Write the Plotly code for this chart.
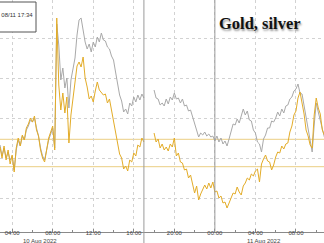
import pandas as pd
import plotly.graph_objects as go

# Session 1: 10 Aug 02:48 -> 17:00 (12-minute bars), session 2: 18:00 -> 11 Aug 10:48
s1_start = "2022-08-10 02:48"
s2_start = "2022-08-10 18:00"

gold_s1 = [85, 74, 86, 72, 82, 68, 77, 60, 84, 94, 86, 97, 92, 104, 108, 114, 110, 116, 102, 96,
           82, 74, 70, 84, 94, 100, 106, 82, 214, 147, 122, 139, 119, 135, 89, 117, 132, 149, 166, 170,
           165, 175, 154, 145, 133, 136, 130, 141, 150, 142, 140, 137, 138, 129, 133, 122, 114, 100, 93, 78,
           74, 63, 66, 61, 72, 70, 79, 76, 87, 85, 94, 90]
silver_s1 = [87, 76, 84, 74, 80, 72, 76, 62, 82, 92, 86, 96, 92, 102, 106, 112, 110, 114, 104, 96,
             84, 76, 72, 82, 92, 98, 104, 84, 208, 187, 152, 164, 144, 154, 124, 152, 162, 174, 197, 212,
             214, 202, 190, 183, 188, 180, 190, 185, 195, 190, 199, 192, 191, 185, 183, 176, 172, 160, 148, 137,
             131, 120, 123, 118, 129, 126, 135, 130, 137, 132, 138, 134]

gold_s2 = [99, 90, 93, 84, 88, 82, 85, 81, 88, 85, 94, 76, 79, 70, 69, 62, 63, 54, 57, 48,
           39, 46, 32, 38, 42, 47, 43, 49, 44, 50, 40, 41, 34, 36, 29, 30, 24, 29, 33, 39,
           38, 45, 40, 37, 46, 49, 54, 52, 58, 56, 61, 63, 50, 68, 73, 77, 71, 70, 62, 67,
           75, 80, 79, 86, 83, 88, 89, 100, 106, 117, 121, 134, 140, 130, 118, 102, 96, 87, 84, 117,
           134, 124, 118, 102, 97]
silver_s2 = [142, 134, 133, 127, 129, 126, 133, 128, 135, 132, 139, 133, 134, 129, 133, 126, 127, 121, 122, 115,
             109, 101, 95, 99, 97, 100, 96, 98, 95, 96, 91, 96, 90, 94, 88, 91, 86, 93, 101, 108,
             107, 113, 109, 117, 123, 117, 121, 112, 111, 102, 99, 90, 88, 80, 93, 97, 104, 104, 111, 110,
             114, 120, 116, 123, 119, 126, 127, 133, 135, 141, 143, 148, 139, 138, 126, 118, 105, 93, 80, 107,
             129, 120, 112, 102, 95]

last_levels = [92.7, 65.3]
grid_levels = [34, 74, 114, 154, 194]

tick_times = ["2022-08-10 04:00", "2022-08-10 08:00", "2022-08-10 12:00", "2022-08-10 16:00",
              "2022-08-10 20:00", "2022-08-11 00:00", "2022-08-11 04:00", "2022-08-11 08:00"]
tick_text = ["04:00", "08:00", "12:00", "16:00", "20:00", "00:00", "04:00", "08:00"]
date_labels = [("2022-08-10 06:42", "10 Aug 2022"), ("2022-08-11 04:52", "11 Aug 2022")]

t1 = pd.date_range(s1_start, periods=len(gold_s1), freq="12min")
t2 = pd.date_range(s2_start, periods=len(gold_s2), freq="12min")

x_all = list(t1) + [None] + list(t2)
gold = gold_s1 + [None] + gold_s2
silver = silver_s1 + [None] + silver_s2

GRAY = "#a9a9a9"
GOLD = "#e3ac28"

fig = go.Figure()
fig.add_trace(go.Scatter(x=x_all, y=silver, mode="lines", line=dict(color=GRAY, width=1),
                         connectgaps=False, showlegend=False, hoverinfo="skip"))
fig.add_trace(go.Scatter(x=x_all, y=gold, mode="lines", line=dict(color=GOLD, width=1),
                         connectgaps=False, showlegend=False, hoverinfo="skip"))

shapes = []
for lv in last_levels:
    shapes.append(dict(type="line", xref="paper", x0=0, x1=1, yref="y", y0=lv, y1=lv,
                       line=dict(color="rgba(228,190,90,0.75)", width=1), layer="below"))
shapes.append(dict(type="line", xref="x", x0="2022-08-10 17:00", x1="2022-08-10 17:00",
                   yref="paper", y0=-0.06, y1=1, line=dict(color="#9a9a9a", width=1)))
shapes.append(dict(type="line", xref="x", x0="2022-08-11 00:00", x1="2022-08-11 00:00",
                   yref="paper", y0=0, y1=1, line=dict(color="#9a9a9a", width=1)))
shapes.append(dict(type="rect", xref="paper", yref="paper", x0=-0.01, x1=36 / 324,
                   y0=(232 - 32) / 232, y1=(232 - 2) / 232,
                   line=dict(color="#555555", width=1), fillcolor="white"))

annotations = [
    dict(text=": 08/11 17:34", xref="paper", yref="paper", x=34.5 / 324, y=(232 - 15) / 232,
         xanchor="right", yanchor="middle", showarrow=False,
         font=dict(family="Liberation Sans", size=6, color="#333333")),
    dict(text="<b>Gold, silver</b>", xref="paper", yref="paper", x=259.5 / 324, y=(232 - 24) / 232,
         xanchor="center", yanchor="middle", showarrow=False,
         font=dict(family="Liberation Serif", size=16.5, color="#111111",
                   shadow="1px 2px 2px #9a9a9a")),
]
for t, txt in date_labels:
    annotations.append(dict(text=txt, xref="x", yref="paper", x=t, y=(232 - 241) / 232,
                            xanchor="center", yanchor="middle", showarrow=False,
                            font=dict(family="Liberation Sans", size=6, color="#444444")))

fig.update_layout(
    width=324, height=243,
    margin=dict(l=0, r=0, t=0, b=11),
    paper_bgcolor="white", plot_bgcolor="white",
    shapes=shapes, annotations=annotations,
    xaxis=dict(type="date", range=["2022-08-10 02:48", "2022-08-11 10:46"],
               tickvals=tick_times, ticktext=tick_text,
               ticks="inside", ticklen=3, tickcolor="#888888",
               showgrid=True, gridcolor="#d2d2d2", griddash="dot", gridwidth=1,
               showline=True, linecolor="#8a8a8a", linewidth=1,
               tickfont=dict(family="Liberation Sans", size=6, color="#444444"),
               ticklabelstandoff=-5,
               minor=dict(dtick=7200000, tick0="2022-08-10 02:00", ticks="inside",
                          ticklen=2, tickcolor="#888888", showgrid=False),
               zeroline=False, fixedrange=True),
    yaxis=dict(range=[0, 232], tickvals=grid_levels, showticklabels=False,
               showgrid=True, gridcolor="#d2d2d2", griddash="dot", gridwidth=1,
               zeroline=False, showline=False, ticks=""),
)

fig.write_html("out.html")
